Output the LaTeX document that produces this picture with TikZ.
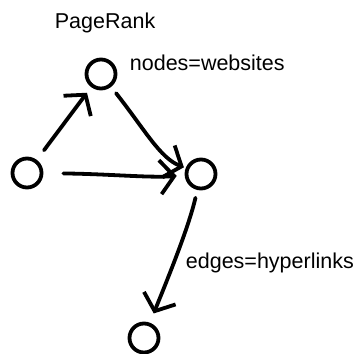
\documentclass[tikz,border=0pt]{standalone}
\usepackage{fontspec}
\setmainfont{Liberation Sans}
\usetikzlibrary{arrows.meta}

\begin{document}
\begin{tikzpicture}[x=1pt,y=-1pt,>={Straight Barb[length=14pt,width=34pt]},line width=3.8pt,line cap=round,
  site/.style={draw,circle,minimum size=29pt,inner sep=0pt},
  lbl/.style={anchor=base west,inner sep=0pt,font=\fontsize{21.5}{25}\selectfont}]
\useasboundingbox (0,0) rectangle (354,354);
\node[site] (t) at (101,74) {};
\node[site] (l) at (27,173) {};
\node[site] (r) at (201,174) {};
\node[site] (b) at (144,338) {};
\node[lbl] (title) at (53,28) {PageRank};
\node[lbl] (nl) at (128,70) {nodes=websites};
\node[lbl] (el) at (184,268) {edges=hyperlinks};
% hand drawn links
\draw[->,shorten <=12pt,shorten >=7pt] (l) -- (t);
\draw[->,shorten <=8pt,shorten >=2pt] (t) .. controls (145,130) and (160,158) .. (r);
\draw[->,shorten <=20pt,shorten >=8pt] (l) .. controls (110,174) and (150,178) .. (r);
\draw[->,shorten <=8pt,shorten >=10pt] (r) .. controls (188,230) and (165,285) .. (b);
\end{tikzpicture}
\end{document}
